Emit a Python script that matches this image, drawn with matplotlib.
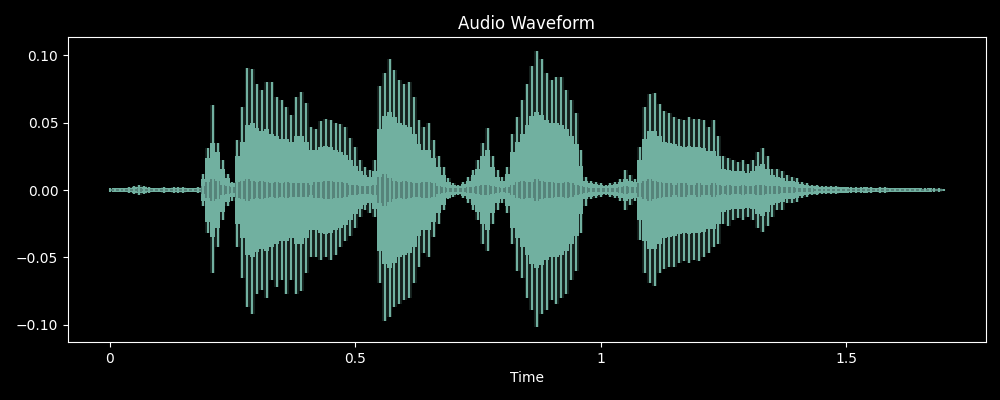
import numpy as np
import matplotlib
matplotlib.use("Agg")
import matplotlib.pyplot as plt
from matplotlib.ticker import FuncFormatter

plt.style.use("dark_background")

# time grid (seconds), one value every 10 ms
times = np.round(np.arange(0, 171) * 0.01, 2)

# upper tips of the waveform spikes
peak_top = [
    0.0012, 0.0015, 0.0015, 0.0018, 0.0022, 0.0030, 0.0035, 0.0032, 0.0020, 0.0016,
    0.0018, 0.0022, 0.0016, 0.0020, 0.0025, 0.0020, 0.0016, 0.0015, 0.0025, 0.012,
    0.031, 0.063, 0.035, 0.022, 0.012, 0.006, 0.037, 0.062, 0.091, 0.090,
    0.079, 0.074, 0.080, 0.080, 0.069, 0.067, 0.062, 0.056, 0.069, 0.073,
    0.065, 0.047, 0.045, 0.051, 0.053, 0.052, 0.050, 0.049, 0.047, 0.039,
    0.032, 0.022, 0.017, 0.015, 0.022, 0.077, 0.087, 0.097, 0.089, 0.082,
    0.079, 0.080, 0.069, 0.052, 0.047, 0.050, 0.037, 0.025, 0.017, 0.009,
    0.005, 0.004, 0.006, 0.010, 0.015, 0.022, 0.035, 0.046, 0.025, 0.015,
    0.010, 0.017, 0.042, 0.054, 0.067, 0.079, 0.092, 0.103, 0.097, 0.087,
    0.082, 0.084, 0.084, 0.074, 0.067, 0.057, 0.030, 0.010, 0.007, 0.006,
    0.005, 0.004, 0.005, 0.006, 0.008, 0.015, 0.011, 0.008, 0.032, 0.062,
    0.071, 0.072, 0.064, 0.059, 0.057, 0.054, 0.053, 0.052, 0.054, 0.053,
    0.053, 0.052, 0.047, 0.052, 0.040, 0.025, 0.024, 0.022, 0.021, 0.022,
    0.019, 0.022, 0.028, 0.031, 0.025, 0.016, 0.016, 0.014, 0.011, 0.010,
    0.009, 0.006, 0.005, 0.004, 0.0035, 0.003, 0.003, 0.0028, 0.003, 0.0025,
    0.0025, 0.002, 0.0022, 0.002, 0.0025, 0.002, 0.0018, 0.002, 0.0022, 0.0018,
    0.0018, 0.0015, 0.0018, 0.0015, 0.0016, 0.0015, 0.0014, 0.0015, 0.0013, 0.0012,
    0.001,
]

# lower tips of the waveform spikes
peak_bottom = [
    -0.0012, -0.0015, -0.0015, -0.0018, -0.0022, -0.0030, -0.0035, -0.0032, -0.0020, -0.0016,
    -0.0018, -0.0022, -0.0016, -0.0020, -0.0025, -0.0020, -0.0016, -0.0015, -0.0025, -0.012,
    -0.032, -0.062, -0.042, -0.022, -0.012, -0.008, -0.042, -0.065, -0.087, -0.092,
    -0.077, -0.074, -0.080, -0.067, -0.072, -0.067, -0.077, -0.067, -0.077, -0.075,
    -0.062, -0.050, -0.050, -0.052, -0.050, -0.052, -0.048, -0.042, -0.038, -0.034,
    -0.028, -0.020, -0.015, -0.017, -0.020, -0.069, -0.097, -0.094, -0.087, -0.085,
    -0.082, -0.080, -0.069, -0.057, -0.047, -0.050, -0.035, -0.025, -0.015, -0.007,
    -0.005, -0.004, -0.006, -0.010, -0.015, -0.022, -0.040, -0.045, -0.025, -0.015,
    -0.010, -0.017, -0.040, -0.060, -0.065, -0.080, -0.089, -0.102, -0.092, -0.089,
    -0.082, -0.085, -0.080, -0.077, -0.067, -0.060, -0.032, -0.012, -0.007, -0.006,
    -0.005, -0.004, -0.005, -0.006, -0.008, -0.015, -0.011, -0.008, -0.037, -0.062,
    -0.069, -0.071, -0.062, -0.059, -0.057, -0.057, -0.054, -0.053, -0.054, -0.052,
    -0.053, -0.050, -0.047, -0.042, -0.040, -0.025, -0.027, -0.022, -0.021, -0.022,
    -0.020, -0.022, -0.028, -0.031, -0.027, -0.020, -0.015, -0.015, -0.010, -0.010,
    -0.009, -0.006, -0.005, -0.004, -0.0035, -0.003, -0.003, -0.0028, -0.003, -0.0025,
    -0.0025, -0.002, -0.0022, -0.002, -0.0025, -0.002, -0.0018, -0.002, -0.0022, -0.0018,
    -0.0018, -0.0015, -0.0018, -0.0015, -0.0016, -0.0015, -0.0014, -0.0015, -0.0013, -0.0012,
    -0.001,
]

# half-height of the dense (solid) part of the waveform
body_amp = [
    0.0010, 0.0012, 0.0012, 0.0014, 0.0016, 0.0022, 0.0025, 0.0022, 0.0015, 0.0012,
    0.0014, 0.0016, 0.0012, 0.0015, 0.0018, 0.0015, 0.0012, 0.0012, 0.0018, 0.008,
    0.024, 0.035, 0.028, 0.016, 0.009, 0.005, 0.025, 0.036, 0.048, 0.050,
    0.046, 0.044, 0.045, 0.042, 0.040, 0.038, 0.038, 0.036, 0.040, 0.040,
    0.036, 0.030, 0.030, 0.032, 0.033, 0.032, 0.030, 0.028, 0.026, 0.022,
    0.018, 0.014, 0.011, 0.010, 0.014, 0.045, 0.055, 0.058, 0.054, 0.050,
    0.048, 0.047, 0.042, 0.034, 0.030, 0.030, 0.024, 0.017, 0.011, 0.006,
    0.0035, 0.003, 0.0045, 0.007, 0.011, 0.016, 0.025, 0.030, 0.017, 0.010,
    0.007, 0.012, 0.028, 0.036, 0.042, 0.048, 0.055, 0.058, 0.056, 0.052,
    0.050, 0.050, 0.048, 0.045, 0.040, 0.034, 0.018, 0.007, 0.005, 0.0045,
    0.004, 0.003, 0.004, 0.0045, 0.006, 0.008, 0.007, 0.006, 0.022, 0.038,
    0.044, 0.044, 0.040, 0.036, 0.035, 0.034, 0.033, 0.032, 0.033, 0.032,
    0.032, 0.031, 0.029, 0.029, 0.025, 0.016, 0.015, 0.014, 0.014, 0.014,
    0.013, 0.014, 0.018, 0.019, 0.016, 0.011, 0.010, 0.009, 0.007, 0.0065,
    0.006, 0.0045, 0.0038, 0.003, 0.0028, 0.0024, 0.0024, 0.0022, 0.0024, 0.002,
    0.002, 0.0016, 0.0018, 0.0016, 0.002, 0.0016, 0.0014, 0.0016, 0.0018, 0.0014,
    0.0014, 0.0012, 0.0014, 0.0012, 0.0013, 0.0012, 0.0011, 0.0012, 0.001, 0.001,
    0.0008,
]

# half-height of the darker band around zero
inner_amp = [
    0.0008, 0.0008, 0.0008, 0.0008, 0.0008, 0.0010, 0.0012, 0.0010, 0.0008, 0.0008,
    0.0008, 0.0008, 0.0008, 0.0008, 0.0008, 0.0008, 0.0008, 0.0008, 0.0008, 0.003,
    0.006, 0.008, 0.007, 0.004, 0.003, 0.002, 0.006, 0.007, 0.008, 0.007,
    0.006, 0.007, 0.006, 0.005, 0.006, 0.005, 0.006, 0.005, 0.005, 0.005,
    0.005, 0.004, 0.006, 0.006, 0.007, 0.007, 0.006, 0.006, 0.005, 0.004,
    0.004, 0.003, 0.003, 0.003, 0.004, 0.010, 0.012, 0.009, 0.007, 0.006,
    0.007, 0.006, 0.005, 0.005, 0.006, 0.006, 0.005, 0.003, 0.002, 0.0015,
    0.0012, 0.0012, 0.0015, 0.002, 0.002, 0.003, 0.004, 0.004, 0.003, 0.002,
    0.0015, 0.002, 0.004, 0.006, 0.007, 0.006, 0.006, 0.008, 0.007, 0.006,
    0.006, 0.005, 0.005, 0.006, 0.005, 0.004, 0.003, 0.002, 0.0015, 0.0015,
    0.0015, 0.0012, 0.0015, 0.0015, 0.002, 0.003, 0.002, 0.002, 0.005, 0.007,
    0.008, 0.007, 0.006, 0.005, 0.005, 0.004, 0.005, 0.005, 0.004, 0.004,
    0.005, 0.004, 0.004, 0.005, 0.004, 0.003, 0.004, 0.003, 0.003, 0.004,
    0.003, 0.003, 0.004, 0.004, 0.003, 0.003, 0.003, 0.002, 0.002, 0.002,
    0.0015, 0.0015, 0.0012, 0.0012, 0.0010, 0.0010, 0.0010, 0.0010, 0.0010, 0.0010,
    0.0008, 0.0008, 0.0008, 0.0008, 0.0008, 0.0008, 0.0008, 0.0008, 0.0008, 0.0008,
    0.0008, 0.0008, 0.0008, 0.0008, 0.0008, 0.0008, 0.0008, 0.0008, 0.0008, 0.0008,
    0.0008,
]

x_ticks = [0, 0.5, 1, 1.5]
y_ticks = [-0.10, -0.05, 0.0, 0.05, 0.10]

WAVE = "#71b0a0"
BAND = "#56837a"

t = np.asarray(times)
top = np.asarray(peak_top)
bot = np.asarray(peak_bottom)
body = np.asarray(body_amp)
inner = np.asarray(inner_amp)

fig = plt.figure(figsize=(10, 4), dpi=100, facecolor="black")
ax = fig.add_axes([0.068, 0.145, 0.918, 0.7625])
ax.set_facecolor("black")

# faint envelope of the spike tips
ax.fill_between(t, bot, top, step="mid", color=WAVE, alpha=0.18, lw=0)
# dense solid body
ax.fill_between(t, -body, body, step="mid", color=WAVE, lw=0)
# individual spikes
ax.vlines(t, 0, top, color=WAVE, lw=1.5)
ax.vlines(t, bot, 0, color=WAVE, lw=1.5)
# dark band around zero
ax.fill_between(t, -inner, inner, step="mid", color=BAND, lw=0)

ax.set_xlim(-0.085, 1.785)
ax.set_ylim(-0.1129, 0.1137)
ax.set_xticks(x_ticks)
ax.xaxis.set_major_formatter(FuncFormatter(lambda v, p: f"{v:g}"))
ax.set_yticks(y_ticks)
ax.yaxis.set_major_formatter(FuncFormatter(lambda v, p: f"{v:.2f}".replace("-", "\u2212")))
for s in ax.spines.values():
    s.set_color("white")
ax.tick_params(colors="white")
ax.set_title("Audio Waveform", color="white")
ax.set_xlabel("Time", color="white")

fig.savefig("out.png", dpi=100, facecolor="black")
